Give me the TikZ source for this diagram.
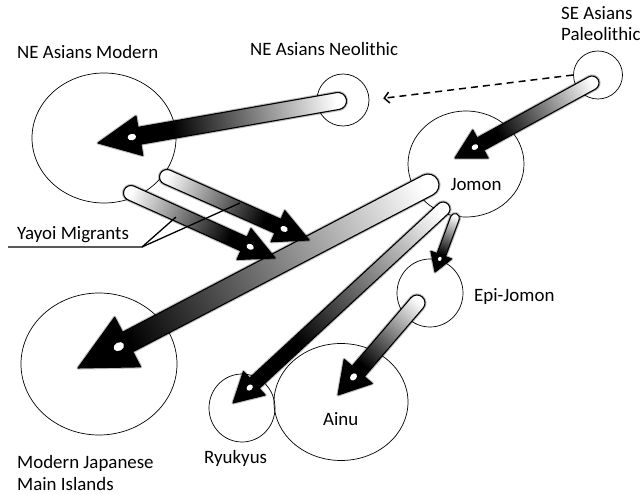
\documentclass[tikz,border=0pt]{standalone}
\usepackage{fontspec}
\setmainfont{Carlito}
\usetikzlibrary{shapes.geometric,arrows.meta}
\pgfdeclarehorizontalshading{arrowshade}{100bp}{color(0bp)=(white); color(27bp)=(white); color(60bp)=(black); color(100bp)=(black)}
\pgfdeclarehorizontalshading{arrowshadelight}{100bp}{color(0bp)=(white); color(27bp)=(white); color(68bp)=(black); color(100bp)=(black)}
\newcommand\blockarrow[6][arrowshade]{%
  \pgfpointdiff{\pgfpointanchor{#2}{center}}{\pgfpointanchor{#3}{center}}%
  \pgfgetlastxy{\BAx}{\BAy}%
  \pgfmathsetmacro\BAang{atan2(\BAy,\BAx)}%
  \pgfmathsetmacro\BAlen{veclen(\BAx,\BAy)}%
  \pgfmathsetmacro\BAbase{\BAlen-#6}%
  \pgfmathsetmacro\BAspot{\BAbase+0.9*#4}%
  \pgfmathsetmacro\BAsrx{0.5*#4}%
  \pgfmathsetmacro\BAsry{0.38*#4}%
  \begin{scope}[transform canvas={shift={(#2)},rotate=\BAang}, x=1pt, y=1pt]
    \shade[shading=#1, draw=black, line width=1.1pt, line join=round,
      preaction={draw=black, opacity=0.25, line width=3.2pt, line join=round}]
      (0,#4) -- (\BAbase,#4) -- (\BAbase,#5) -- (\BAlen,0) -- (\BAbase,-#5) -- (\BAbase,-#4) -- (0,-#4)
      arc[start angle=-90, end angle=-270, radius=#4pt] -- cycle;
    \fill[white] (\BAspot,0) ellipse[x radius=\BAsrx pt, y radius=\BAsry pt];
  \end{scope}}
\tikzset{
  pop/.style={draw=black, line width=0.7pt, ellipse, inner sep=0pt},
  lbl/.style={inner sep=0pt, font=\fontsize{18.9}{21.5}\selectfont},
}
\begin{document}
\begin{tikzpicture}[x=1pt,y=-1pt]
\useasboundingbox[fill=white] (0,0) rectangle (641,495);
% populations
\node[pop, minimum width=144pt, minimum height=130pt] (mod) at (104,138) {};
\node[pop, minimum width=52pt, minimum height=52pt] (neo) at (343,100) {};
\node[pop, minimum width=49pt, minimum height=48pt] (pal) at (598,75) {};
\node[pop, minimum width=116pt, minimum height=106pt] (jom) at (466,164) {};
\node[pop, minimum width=66pt, minimum height=68pt] (epi) at (430,293) {};
\node[pop, minimum width=134pt, minimum height=117pt] (ainu) at (341,402) {};
\node[pop, minimum width=66pt, minimum height=68pt] (ryu) at (242,408) {};
\node[pop, minimum width=156pt, minimum height=142pt] (mjp) at (99,364) {};
% labels
\node[lbl, anchor=base west] (lmod) at (17,59) {NE Asians Modern};
\node[lbl, anchor=base west] (lneo) at (250,56) {NE Asians Neolithic};
\node[lbl, anchor=base west, align=left] (lpal) at (561,41) {SE Asians\\Paleolithic};
\node[lbl, anchor=base] (ljom) at (476,190) {Jomon};
\node[lbl, anchor=base west] (lepi) at (474,301) {Epi-Jomon};
\node[lbl, anchor=base west] (lainu) at (323,425) {Ainu};
\node[lbl, anchor=base west] (lryu) at (204,463) {Ryukyus};
\node[lbl, anchor=base west, align=left] (lmjp) at (17,490) {Modern Japanese\\Main Islands};
\node[lbl, anchor=base west] (lyay) at (17,239) {Yayoi Migrants};
% arrow end points
\coordinate (a1t) at (338,101); \coordinate (a1h) at (98,143);
\coordinate (a2t) at (592,83);  \coordinate (a2h) at (455,158);
\coordinate (a3t) at (167,177); \coordinate (a3h) at (309,240);
\coordinate (a4t) at (131,193); \coordinate (a4h) at (275,258);
\coordinate (a5t) at (428,185); \coordinate (a5h) at (78,368);
\coordinate (a6t) at (443,209); \coordinate (a6h) at (233,403);
\coordinate (a7t) at (455,218); \coordinate (a7h) at (435,272);
\coordinate (a8t) at (417,303); \coordinate (a8h) at (338,395);
% dashed arrow
\draw[line width=1.5pt, dash pattern=on 7pt off 5pt, -{Straight Barb[length=5pt,width=11pt,line width=1.5pt]}, shorten >=14pt] (pal.west) -- (neo.east);
% block arrows
\blockarrow{a1t}{a1h}{8.5}{20}{42}
\blockarrow{a2t}{a2h}{7}{16}{29}
\blockarrow[arrowshadelight]{a5t}{a5h}{11}{28}{56}
\blockarrow{a3t}{a3h}{7.5}{17}{34}
\blockarrow{a4t}{a4h}{7.5}{17}{34}
\blockarrow{a6t}{a6h}{7}{16}{29}
\blockarrow{a7t}{a7h}{4.5}{11}{18}
\blockarrow{a8t}{a8h}{8}{18.5}{31}
% Yayoi label leader
\coordinate (yl0) at (8,247);
\coordinate (yl1) at (142,247);
\coordinate (yl2) at (176,217);
\coordinate (yl3) at (240,203);
\draw[line width=1.3pt] (yl0) -- (yl1) -- (yl2);
\draw[line width=1.3pt] (yl1) -- (yl3);
\end{tikzpicture}
\end{document}
